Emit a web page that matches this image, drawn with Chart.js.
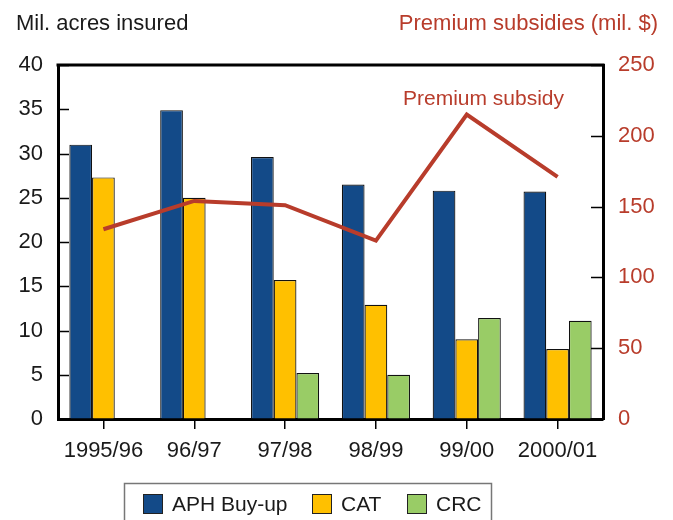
<!DOCTYPE html>
<html>
<head>
<meta charset="utf-8">
<style>
  html, body { margin: 0; padding: 0; background: #ffffff; }
  #wrap { width: 673px; height: 520px; }
</style>
<script src="https://cdn.jsdelivr.net/npm/chart.js@4.4.1/dist/chart.umd.min.js"></script>
</head>
<body>
<div id="wrap"><canvas id="c" width="673" height="520"></canvas></div>
<script>
const categories = ["1995/96", "96/97", "97/98", "98/99", "99/00", "2000/01"];
const aphBuyUp = [31.0, 34.9, 29.6, 26.5, 25.8, 25.7];
const cat = [27.3, 25.0, 15.7, 12.9, 9.0, 7.9];
const crc = [null, null, 5.2, 5.0, 11.4, 11.1];
const premiumSubsidy = [134, 154, 151, 126, 215, 171];
const leftTicks = [0, 5, 10, 15, 20, 25, 30, 35, 40];
const rightTicks = [0, 50, 100, 150, 200, 250];

const FONT = "'Liberation Sans', Arial, Helvetica, sans-serif";
const RED = '#b83c2b';
const INK = '#1a1a1a';

const decorPlugin = {
  id: 'decor',
  afterDraw(chart) {
    const ctx = chart.ctx;
    const a = chart.chartArea;
    const y = chart.scales.y, y1 = chart.scales.y1;
    ctx.save();
    // top frame line
    ctx.strokeStyle = '#000';
    ctx.lineWidth = 3;
    ctx.beginPath();
    ctx.moveTo(a.left - 1.5, a.top);
    ctx.lineTo(a.right + 1.5, a.top);
    ctx.stroke();
    // inward ticks
    ctx.lineWidth = 1.5;
    ctx.beginPath();
    leftTicks.forEach(v => {
      const py = Math.round(y.getPixelForValue(v)) + 0.5;
      ctx.moveTo(a.left, py); ctx.lineTo(a.left + 11, py);
    });
    rightTicks.forEach(v => {
      const py = Math.round(y1.getPixelForValue(v)) + 0.5;
      ctx.moveTo(a.right, py); ctx.lineTo(a.right - 12, py);
    });
    ctx.stroke();
    // axis titles
    ctx.font = '22px ' + FONT;
    ctx.textBaseline = 'alphabetic';
    ctx.fillStyle = INK;
    ctx.textAlign = 'left';
    ctx.fillText('Mil. acres insured', 16, 30);
    ctx.fillStyle = RED;
    ctx.textAlign = 'right';
    ctx.fillText('Premium subsidies (mil. $)', 658, 30);
    // line annotation
    ctx.font = '21px ' + FONT;
    ctx.textAlign = 'left';
    ctx.fillText('Premium subsidy', 403, 105);
    // legend
    ctx.strokeStyle = '#777';
    ctx.lineWidth = 1.5;
    ctx.strokeRect(124.5, 483.5, 367, 50);
    const items = chart.data.datasets.filter(d => d.type !== 'line');
    const sq = [143, 312, 407];
    ctx.font = '21px ' + FONT;
    ctx.textBaseline = 'middle';
    items.forEach((d, i) => {
      ctx.fillStyle = d.backgroundColor;
      ctx.fillRect(sq[i], 494, 20, 20);
      ctx.strokeStyle = '#222';
      ctx.lineWidth = 1;
      ctx.strokeRect(sq[i] + 0.5, 494.5, 19, 19);
      ctx.fillStyle = INK;
      ctx.fillText(d.label, sq[i] + 29, 505);
    });
    ctx.restore();
  }
};

new Chart(document.getElementById('c'), {
  data: {
    labels: categories,
    datasets: [
      { type: 'line', label: 'Premium subsidy', data: premiumSubsidy, yAxisID: 'y1',
        borderColor: RED, borderWidth: 4, pointRadius: 0, tension: 0, order: 0 },
      { type: 'bar', label: 'APH Buy-up', data: aphBuyUp, yAxisID: 'y',
        backgroundColor: '#134a88', borderColor: '#111111', borderWidth: 1.2, order: 1 },
      { type: 'bar', label: 'CAT', data: cat, yAxisID: 'y',
        backgroundColor: '#ffc000', borderColor: '#111111', borderWidth: 1.2, order: 1 },
      { type: 'bar', label: 'CRC', data: crc, yAxisID: 'y',
        backgroundColor: '#99cc66', borderColor: '#111111', borderWidth: 1.2, order: 1 }
    ]
  },
  options: {
    responsive: false,
    animation: false,
    layout: { padding: { top: 65, bottom: 61, left: 0, right: 0 } },
    datasets: { bar: { categoryPercentage: 0.75, barPercentage: 1.0 } },
    plugins: { legend: { display: false }, tooltip: { enabled: false } },
    scales: {
      x: {
        grid: { offset: false, drawOnChartArea: false, drawTicks: true, tickLength: 10, color: '#000', lineWidth: 1.5 },
        border: { display: true, color: '#000', width: 3 },
        ticks: { color: INK, font: { family: FONT, size: 22 }, padding: 9, maxRotation: 0, autoSkip: false },
        afterFit(s) { s.height = 40; }
      },
      y: {
        position: 'left', min: 0, max: 40,
        afterBuildTicks(s) { s.ticks = leftTicks.map(v => ({ value: v })); },
        grid: { drawOnChartArea: false, drawTicks: false },
        border: { display: true, color: '#000', width: 3 },
        ticks: { color: INK, font: { family: FONT, size: 22 }, padding: 15 },
        afterFit(s) { s.width = 58; }
      },
      y1: {
        position: 'right', min: 0, max: 250,
        afterBuildTicks(s) { s.ticks = rightTicks.map(v => ({ value: v })); },
        grid: { drawOnChartArea: false, drawTicks: false },
        border: { display: true, color: '#000', width: 3 },
        ticks: { color: RED, font: { family: FONT, size: 22 }, padding: 15 },
        afterFit(s) { s.width = 70; }
      }
    }
  },
  plugins: [decorPlugin]
});
</script>
</body>
</html>
